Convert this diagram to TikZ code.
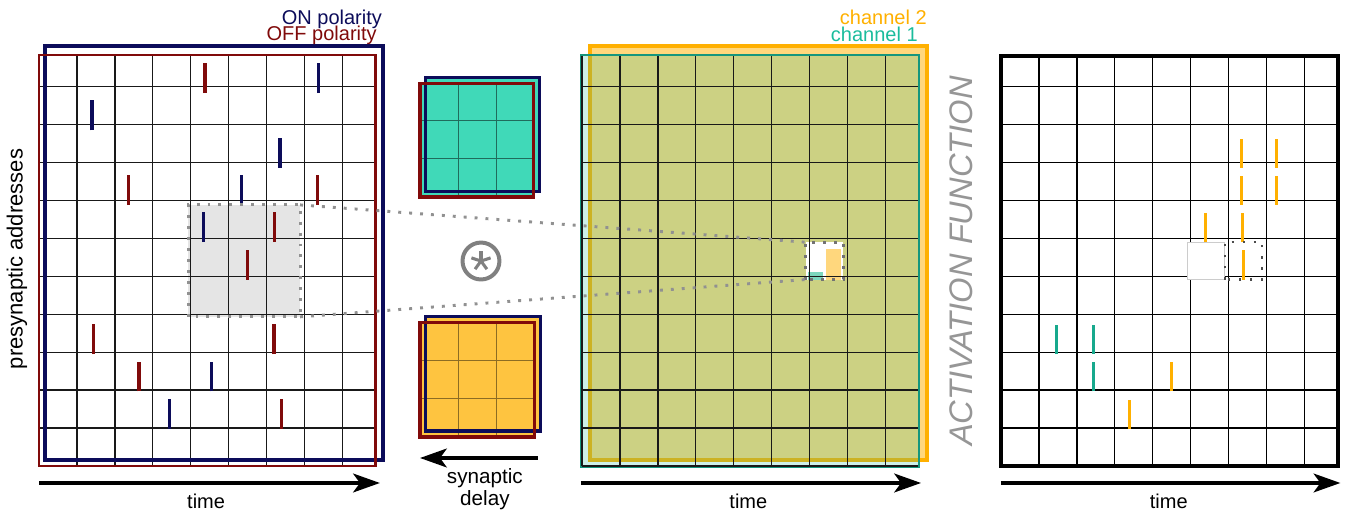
\documentclass[tikz,border=0pt]{standalone}
\usepackage{fontspec}
\setmainfont{Liberation Sans}
\usepackage{tikz}
\usetikzlibrary{arrows.meta, positioning, calc}
\definecolor{OnBlue}{RGB}{12,12,90}
\definecolor{OffRed}{RGB}{128,10,10}
\definecolor{ChanTeal}{RGB}{26,188,156}
\definecolor{ChanOrange}{RGB}{255,176,0}
\definecolor{KernTeal}{RGB}{64,217,184}
\definecolor{KernOrange}{RGB}{254,196,64}
\definecolor{PaleOrange}{RGB}{255,215,125}
\definecolor{PaleTeal}{RGB}{125,215,190}
\definecolor{DotGray}{RGB}{145,145,145}
\definecolor{LabelGray}{RGB}{150,150,150}

\begin{document}
\begin{tikzpicture}[
    x=27.975pt, y=27.975pt,
    gridlines/.style={line width=1pt, black!90},
    spike/.style={line width=2.3pt},
    timeflow/.style={-{Stealth[length=20pt, width=14pt, inset=5pt]}, line width=3pt},
    winbox/.style={DotGray, line width=2.2pt, dash pattern=on 2.2pt off 6pt},
    lbl/.style={font=\fontsize{15}{16.5}\selectfont, inner sep=0pt},
]
\useasboundingbox (0,0) rectangle (36.113,13.834);

% ============ input events, ON / OFF ============
\begin{scope}[shift={(1.046,1.340)}]
    \fill[black!10] (4,4) rectangle (7,7);
    \draw[gridlines] (0,0) grid (9,11);
    % OFF events
    \foreach \x/\y in {4.45/10, 2.41/7, 7.47/7, 6.32/6, 5.60/5, 1.47/3, 6.30/3, 2.68/2, 6.51/1}
        \draw[spike, OffRed] (\x,\y) -- ++(0,0.8);
    % ON events
    \foreach \x/\y in {7.50/10, 1.42/9, 6.46/8, 5.44/7, 4.42/6, 4.63/2, 3.51/1}
        \draw[spike, OnBlue] (\x,\y) -- ++(0,0.8);
    \draw[winbox] (4,4) rectangle (7,7);
    \coordinate (winTR) at (7,7);
    \coordinate (winBR) at (7,4);
    \draw[OnBlue, line width=2.4pt] (0.16,0.16) rectangle (9.22,11.26);
    \draw[OffRed, line width=2.2pt] (0,0) rectangle (9.02,11.02);
    \node[lbl, text=OnBlue, anchor=base east] (onlbl) at (9.2,11.84) {ON polarity};
    \node[lbl, text=OffRed, anchor=base east] (offlbl) at (9.06,11.41) {OFF polarity};
    \coordinate (tA0) at (0,-0.455);
    \coordinate (tA1) at (9.14,-0.455);
    \draw[timeflow] (tA0) -- (tA1);
    \node[lbl, anchor=base] (timeA) at (4.48,-1.126) {time};
\end{scope}

\node[lbl, font=\fontsize{16.5}{17}\selectfont, rotate=90] (addr) at (0.456,6.890) {presynaptic addresses};

% ============ kernels ============
\begin{scope}[shift={(11.26,8.552)}]
    \fill[KernTeal] (0,0) rectangle (3.04,3.04) (0.16,0.15) rectangle (3.2,3.2);
    \foreach \i in {1.02,2.04} {
        \draw[KernTeal!50!black, line width=0.8pt] (\i,0) -- (\i,3.04);
        \draw[KernTeal!50!black, line width=0.8pt] (0,\i) -- (3.04,\i);
    }
    \draw[OnBlue, line width=2.3pt] (0.16,0.15) rectangle (3.2,3.2);
    \draw[OffRed, line width=2.3pt] (0,0) rectangle (3.04,3.04);
\end{scope}

\begin{scope}[shift={(11.26,2.118)}]
    \fill[KernOrange] (0,0) rectangle (3.06,3.06) (0.16,0.16) rectangle (3.22,3.22);
    \foreach \i in {1.02,2.04} {
        \draw[KernOrange!55!black, line width=0.8pt] (\i,0) -- (\i,3.06);
        \draw[KernOrange!55!black, line width=0.8pt] (0,\i) -- (3.06,\i);
    }
    \draw[OnBlue, line width=2.3pt] (0.16,0.16) rectangle (3.22,3.22);
    \draw[OffRed, line width=2.3pt] (0,0) rectangle (3.06,3.06);
\end{scope}

% convolution sign
\node[circle, draw=black!50, line width=3pt, minimum size=27.7pt, inner sep=0pt] (conv) at (12.895,6.836) {};
\foreach \a in {90,18,162,234,306}
    \draw[black!50, line width=2.3pt] (conv.center) -- ++(\a:0.27);

% delay goes backwards in time
\coordinate (dly0) at (14.42,1.555);
\coordinate (dly1) at (11.26,1.555);
\draw[timeflow] (dly0) -- (dly1);
\node[lbl, font=\fontsize{15.5}{16.5}\selectfont, align=center, anchor=north] (dlylbl) at (13.0,1.27) {synaptic\\delay};

% ============ feature maps, channel 1 / channel 2 ============
\begin{scope}[shift={(15.603,1.340)}]
    \filldraw[fill=PaleOrange, draw=ChanOrange, line width=3pt] (0.214,0.16) rectangle (9.25,11.26);
    \filldraw[fill=ChanTeal, fill opacity=0.22, draw=ChanTeal!80!black, line width=1.6pt] (-0.03,-0.02) rectangle (9.03,11.03);
    \fill[white] (6,5) rectangle (7,6);
    \fill[PaleTeal] (6.07,5) rectangle (6.47,5.2);
    \fill[PaleOrange] (6.53,5) rectangle (6.94,5.83);
    \draw[gridlines] (0,0) grid (9,11);
    \draw[winbox, black!55] (6,5) rectangle (7,6);
    \coordinate (outTL) at (6,6);
    \coordinate (outBL) at (6,5);
    \node[lbl, text=ChanOrange, anchor=base east] (ch2lbl) at (9.249,11.84) {channel 2};
    \node[lbl, text=ChanTeal, anchor=base east] (ch1lbl) at (9.008,11.38) {channel 1};
    \coordinate (tB0) at (-0.03,-0.455);
    \coordinate (tB1) at (9.09,-0.455);
    \draw[timeflow] (tB0) -- (tB1);
    \node[lbl, anchor=base] (timeB) at (4.46,-1.126) {time};
\end{scope}

% receptive field -> output neuron
\draw[winbox] (winTR) -- (outTL);
\draw[winbox] (winBR) -- (outBL);

\node[lbl, rotate=90, text=LabelGray, font=\fontsize{24.5}{25}\selectfont\itshape] (actfn) at (25.764,6.836) {ACTIVATION FUNCTION};

% ============ output events ============
\begin{scope}[shift={(26.836,1.340)}]
    \draw[gridlines, black] (0,0) grid (9,11);
    \filldraw[fill=white, draw=black!20, line width=0.9pt] (5,5) rectangle (6,6);
    % channel 2 events
    \foreach \x/\y in {6.44/8, 7.38/8, 6.44/7, 7.38/7, 5.48/6, 6.47/6, 6.50/5, 4.57/2, 3.45/1}
        \draw[spike, ChanOrange] (\x,\y) -- ++(0,0.78);
    % channel 1 events
    \foreach \x/\y in {1.50/3, 2.49/3, 2.49/2}
        \draw[spike, ChanTeal!90!black] (\x,\y) -- ++(0,0.78);
    \draw[black!70, line width=1.8pt, dash pattern=on 1.8pt off 6.5pt] (6,5) rectangle (7,6);
    \draw[line width=3pt] (0,0) rectangle (9.03,11);
    \coordinate (tC0) at (0,-0.455);
    \coordinate (tC1) at (9.1,-0.455);
    \draw[timeflow] (tC0) -- (tC1);
    \node[lbl, anchor=base] (timeC) at (4.5,-1.126) {time};
\end{scope}

\end{tikzpicture}
\end{document}
